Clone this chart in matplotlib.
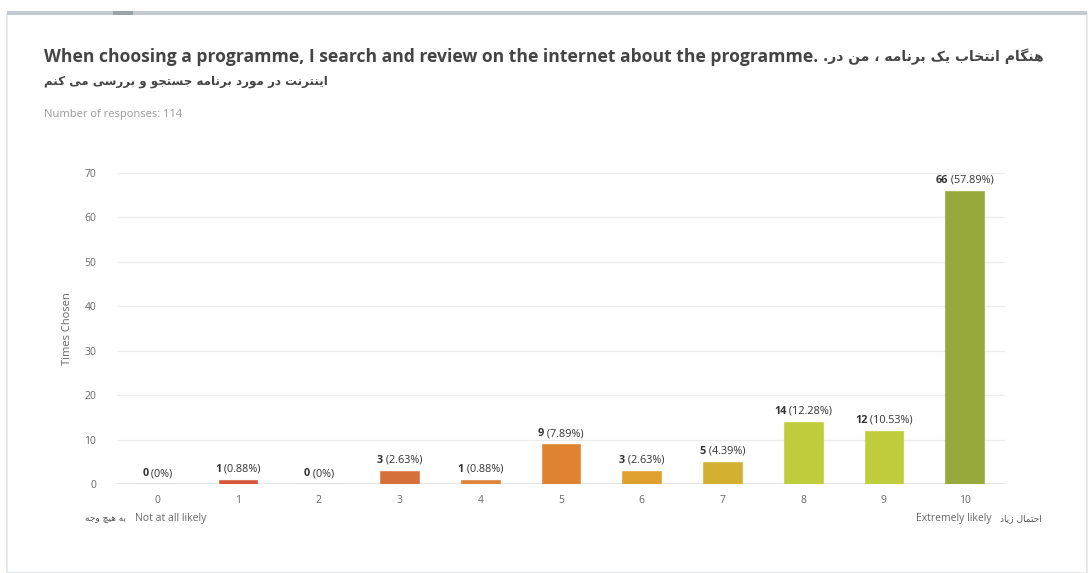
import matplotlib
matplotlib.use("Agg")
import matplotlib.pyplot as plt
from matplotlib.patches import Rectangle

# ---- data ----
categories = ["0", "1", "2", "3", "4", "5", "6", "7", "8", "9", "10"]
counts = [0, 1, 0, 3, 1, 9, 3, 5, 14, 12, 66]
percents = ["0%", "0.88%", "0%", "2.63%", "0.88%", "7.89%", "2.63%", "4.39%",
            "12.28%", "10.53%", "57.89%"]
bar_colors = ["#cf4a3c", "#d4573b", "#d5623a", "#d6703a", "#df823a", "#e08330",
              "#dfa030", "#d4b031", "#bfcc3b", "#bfcc3b", "#97a93a"]
yticks = [0, 10, 20, 30, 40, 50, 60, 70]

title_en = "When choosing a programme, I search and review on the internet about the programme."
title_fa_1 = "هنگام انتخاب یک برنامه ، من در."
title_fa_2 = "اینترنت در مورد برنامه جستجو و بررسی می کنم"
responses = "Number of responses: 114"
low_en, low_fa = "Not at all likely", "به هیچ وجه"
high_en, high_fa = "Extremely likely", "احتمال زیاد"
y_label = "Times Chosen"

# ---- minimal Persian shaping (contextual forms + visual order) ----
# letter: (isolated, final, initial, medial); None for initial/medial = joins only to the right
FORMS = {
    "ا": ("\uFE8D", "\uFE8E", None, None),
    "ب": ("\uFE8F", "\uFE90", "\uFE91", "\uFE92"),
    "ت": ("\uFE95", "\uFE96", "\uFE97", "\uFE98"),
    "ج": ("\uFE9D", "\uFE9E", "\uFE9F", "\uFEA0"),
    "ح": ("\uFEA1", "\uFEA2", "\uFEA3", "\uFEA4"),
    "خ": ("\uFEA5", "\uFEA6", "\uFEA7", "\uFEA8"),
    "د": ("\uFEA9", "\uFEAA", None, None),
    "ر": ("\uFEAD", "\uFEAE", None, None),
    "ز": ("\uFEAF", "\uFEB0", None, None),
    "س": ("\uFEB1", "\uFEB2", "\uFEB3", "\uFEB4"),
    "ل": ("\uFEDD", "\uFEDE", "\uFEDF", "\uFEE0"),
    "م": ("\uFEE1", "\uFEE2", "\uFEE3", "\uFEE4"),
    "ن": ("\uFEE5", "\uFEE6", "\uFEE7", "\uFEE8"),
    "ه": ("\uFEE9", "\uFEEA", "\uFEEB", "\uFEEC"),
    "و": ("\uFEED", "\uFEEE", None, None),
    "ی": ("\uFBFC", "\uFBFD", "\uFBFE", "\uFBFF"),
    "ک": ("\uFB8E", "\uFB8F", "\uFB90", "\uFB91"),
    "گ": ("\uFB92", "\uFB93", "\uFB94", "\uFB95"),
    "چ": ("\uFB7A", "\uFB7B", "\uFB7C", "\uFB7D"),
}


def joins_left(ch):
    return ch in FORMS and FORMS[ch][2] is not None


def shape_fa(text):
    out = []
    for i, ch in enumerate(text):
        if ch not in FORMS:
            out.append(ch)
            continue
        prev_c = text[i - 1] if i > 0 else ""
        next_c = text[i + 1] if i + 1 < len(text) else ""
        from_right = joins_left(prev_c)
        to_left = joins_left(ch) and next_c in FORMS
        iso, fin, ini, med = FORMS[ch]
        if from_right and to_left:
            out.append(med)
        elif from_right:
            out.append(fin)
        elif to_left:
            out.append(ini)
        else:
            out.append(iso)
    return "".join(reversed(out))


FONT = ["Open Sans", "DejaVu Sans"]
plt.rcParams["font.family"] = FONT

W, H, DPI = 1092, 573, 100
fig = plt.figure(figsize=(W / DPI, H / DPI), dpi=DPI)
fig.patch.set_facecolor("white")


def fx(px):
    return px / W


def fy(py):
    return 1 - py / H


# card frame
fig.patches.append(Rectangle((fx(7), fy(573)), fx(1080), fy(14) - fy(573),
                             transform=fig.transFigure, facecolor="none",
                             edgecolor="#e3e6ea", linewidth=1.2))
fig.patches.append(Rectangle((fx(7), fy(15)), fx(1080), fy(11) - fy(15),
                             transform=fig.transFigure, facecolor="#c4cacf",
                             edgecolor="none"))
fig.patches.append(Rectangle((fx(113), fy(15)), fx(20), fy(11) - fy(15),
                             transform=fig.transFigure, facecolor="#9aa3a8",
                             edgecolor="none"))

# titles
t1 = fig.text(fx(44), fy(57), title_en + " ", fontsize=12.6, fontweight="bold",
              color="#444444", va="center", ha="left", family=FONT)
fig.canvas.draw()
bb = t1.get_window_extent(renderer=fig.canvas.get_renderer())
fig.text(bb.x1 / W, fy(57), shape_fa(title_fa_1), fontsize=10, fontweight="bold",
         color="#444444", va="center", ha="left", family=["DejaVu Sans"])
fig.text(fx(44), fy(82), shape_fa(title_fa_2), fontsize=8.6, fontweight="bold",
         color="#444444", va="center", ha="left", family=["DejaVu Sans"])
fig.text(fx(44), fy(115), responses, fontsize=8, color="#999999",
         va="center", ha="left")

# chart axes
ax = fig.add_axes([fx(117), fy(484), fx(1005) - fx(117), fy(173) - fy(484)])
x = list(range(len(categories)))
ax.bar(x, counts, width=0.48, color=bar_colors, edgecolor=[c + "99" for c in bar_colors],
       linewidth=0.8, zorder=3)
ax.set_xlim(-0.5, 10.5)
ax.set_ylim(0, 70)
ax.set_yticks(yticks)
ax.set_xticks(x)
ax.set_xticklabels(categories)
ax.tick_params(axis="both", length=0, labelsize=7.5, labelcolor="#666666")
ax.tick_params(axis="y", pad=15)
ax.tick_params(axis="x", pad=8)
ax.grid(axis="y", color="#ececec", linewidth=1, zorder=0)
ax.axhline(0, color="#e2e2e2", linewidth=2, zorder=2)
for s in ax.spines.values():
    s.set_visible(False)
ax.set_ylabel(y_label, fontsize=8, color="#666666", labelpad=8)

# value labels: bold count followed by the percentage
r = fig.canvas.get_renderer()
OFF = 3.5
for xi, c, p in zip(x, counts, percents):
    a = ax.annotate(str(c), (xi, c), xytext=(0, OFF), textcoords="offset points",
                    fontsize=7.8, fontweight="bold", color="#333333",
                    ha="right", va="bottom", annotation_clip=False)
    b = ax.annotate(f" ({p})", (xi, c), xytext=(0, OFF), textcoords="offset points",
                    fontsize=7.8, color="#333333", ha="left", va="bottom",
                    annotation_clip=False)
    wa = a.get_window_extent(renderer=r).width
    wb = b.get_window_extent(renderer=r).width
    shift = (wa - wb) / 2 * 72 / DPI
    a.xyann = (shift, OFF)
    b.xyann = (shift, OFF)

# scale end labels
fig.text(fx(135), fy(519), low_en, fontsize=7.5, color="#666666", va="center", ha="left")
fig.text(fx(126), fy(519), shape_fa(low_fa), fontsize=6.5, color="#555555",
         va="center", ha="right", family=["DejaVu Sans"])
fig.text(fx(992), fy(519), high_en, fontsize=7.5, color="#666666", va="center", ha="right")
fig.text(fx(1000), fy(519), shape_fa(high_fa), fontsize=6.5, color="#555555",
         va="center", ha="left", family=["DejaVu Sans"])

fig.savefig("out.png", dpi=DPI, facecolor="white")
